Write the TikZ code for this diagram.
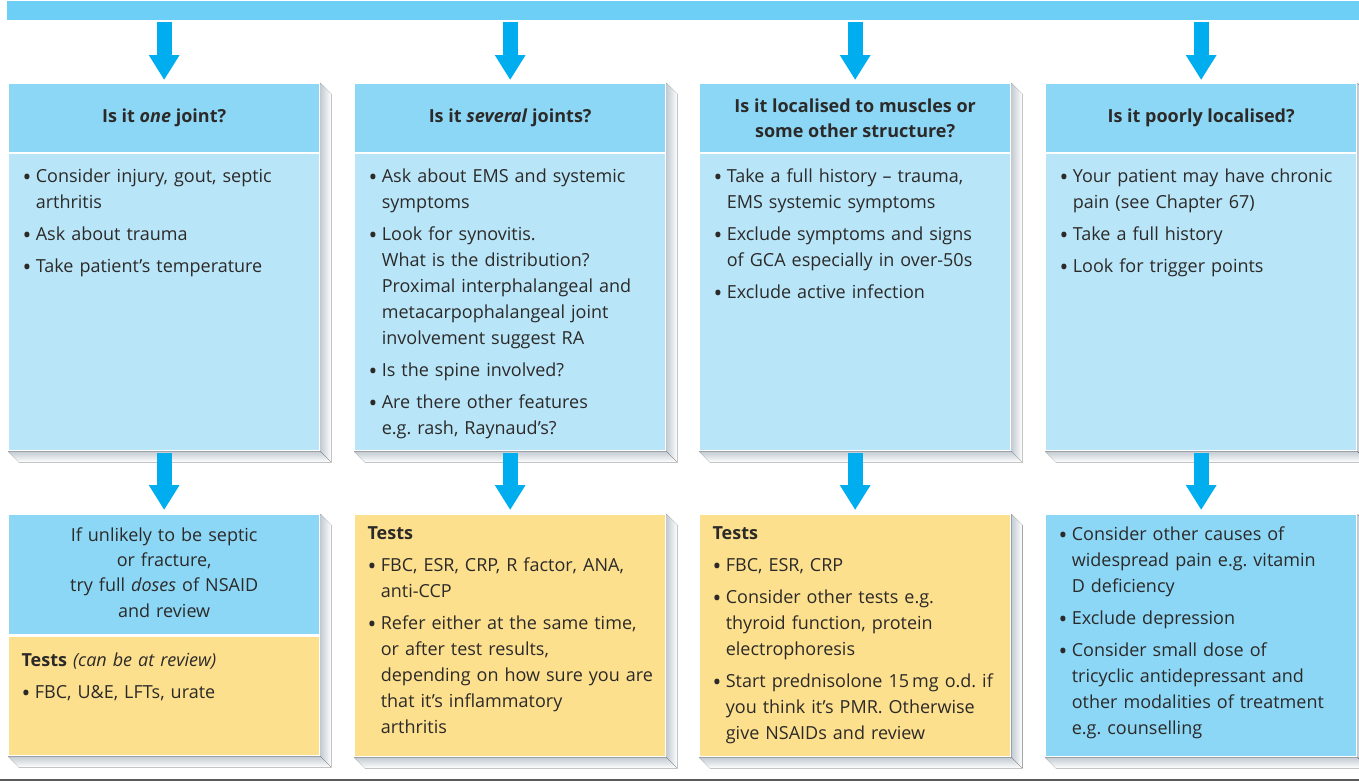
\documentclass[tikz,border=0pt]{standalone}
\usepackage{fontspec}
\setmainfont{Open Sans}
\frenchspacing
\usetikzlibrary{arrows.meta,calc}

\definecolor{barblue}{HTML}{6DCFF6}
\definecolor{headblue}{HTML}{8DD7F6}
\definecolor{paleblue}{HTML}{B9E5F8}
\definecolor{testorange}{HTML}{FDE08E}
\definecolor{arrowblue}{HTML}{00AEEF}
\definecolor{inkgray}{HTML}{2B2A29}
\definecolor{shadowgray}{HTML}{C3CBD2}
\definecolor{rulegray}{HTML}{5A5A5A}

\newcommand{\bodyfont}{\fontsize{13.5}{19.5}\selectfont\setlength{\parskip}{4.5pt}}
\newcommand{\headfont}{\fontsize{13.5}{18.75}\selectfont\bfseries}
\newcommand{\dotmark}{\raisebox{-0.35ex}{\scalebox{1.3}{\textbullet}}}
\newcommand{\bul}[1]{\noindent\hangindent=10pt\hangafter=1\makebox[10pt][l]{\dotmark}{\let\\\newline #1}\par}

\tikzset{every picture/.style={line width=0.75pt}}
\tikzset{
  boxbase/.style={draw=white, line width=1pt, inner sep=0pt, anchor=north west, minimum width=233.25pt},
  askbox/.style={boxbase, fill=headblue, minimum height=51.75pt},
  infobox/.style={boxbase, fill=paleblue, minimum height=222.75pt},
  endbox/.style={boxbase, fill=#1, minimum height=181.5pt},
  halfbox/.style={boxbase, fill=#1, minimum height=89.25pt},
  headtxt/.style={inner sep=0.75pt, text=inkgray, font=\headfont, align=center},
  txt/.style={inner sep=0.75pt, text=inkgray, font=\bodyfont, text width=220pt, align=left},
  downarrow/.style={arrowblue, line width=11.25pt, -{Triangle[width=21.75pt,length=18.75pt]}},
  sideshade/.style={left color=shadowgray, right color=white},
  footshade/.style={top color=shadowgray, bottom color=white},
}

\begin{document}
\begin{tikzpicture}[x=0.75pt,y=0.75pt,yscale=-1,xscale=1]
\useasboundingbox (0,0) rectangle (1359,783);

%Shape: Top Bar
\draw (6,0) node [boxbase, draw=none, fill=barblue, minimum width=1014.75pt, minimum height=14.25pt] (bar) {};

%Shape: Question Boxes
\draw (8,83) node [askbox] (q1) {};
\draw (354,83) node [askbox] (q2) {};
\draw (699,83) node [askbox] (q3) {};
\draw (1045,83) node [askbox] (q4) {};

%Shape: Detail Boxes
\draw (8,153) node [infobox] (d1) {};
\draw (354,153) node [infobox] (d2) {};
\draw (699,153) node [infobox] (d3) {};
\draw (1045,153) node [infobox] (d4) {};

%Shape: Lower Boxes
\draw (8,514) node [boxbase, fill=headblue, minimum height=90pt] (a1) {};
\draw (8,636) node [halfbox=testorange] (t1) {};
\draw (354,514) node [endbox=testorange] (t2) {};
\draw (699,514) node [endbox=testorange] (t3) {};
\draw (1045,514) node [endbox=headblue] (t4) {};

%Shadows of the columns
\fill [sideshade] (q1.north east) -- ($(q1.north east)+(11,11)$) -- ($(d1.south east)+(11,11)$) -- (d1.south east) -- cycle;
\fill [footshade] (d1.south west) -- ($(d1.south west)+(11,11)$) -- ($(d1.south east)+(11,11)$) -- (d1.south east) -- cycle;
\fill [sideshade] (q2.north east) -- ($(q2.north east)+(11,11)$) -- ($(d2.south east)+(11,11)$) -- (d2.south east) -- cycle;
\fill [footshade] (d2.south west) -- ($(d2.south west)+(11,11)$) -- ($(d2.south east)+(11,11)$) -- (d2.south east) -- cycle;
\fill [sideshade] (q3.north east) -- ($(q3.north east)+(11,11)$) -- ($(d3.south east)+(11,11)$) -- (d3.south east) -- cycle;
\fill [footshade] (d3.south west) -- ($(d3.south west)+(11,11)$) -- ($(d3.south east)+(11,11)$) -- (d3.south east) -- cycle;
\fill [sideshade] (q4.north east) -- ($(q4.north east)+(11,11)$) -- ($(d4.south east)+(11,11)$) -- (d4.south east) -- cycle;
\fill [footshade] (d4.south west) -- ($(d4.south west)+(11,11)$) -- ($(d4.south east)+(11,11)$) -- (d4.south east) -- cycle;
%Shadows of the lower boxes
\fill [sideshade] (a1.north east) -- ($(a1.north east)+(11,11)$) -- ($(t1.south east)+(11,11)$) -- (t1.south east) -- cycle;
\fill [footshade] (t1.south west) -- ($(t1.south west)+(11,11)$) -- ($(t1.south east)+(11,11)$) -- (t1.south east) -- cycle;
\fill [sideshade] (t2.north east) -- ($(t2.north east)+(11,11)$) -- ($(t2.south east)+(11,11)$) -- (t2.south east) -- cycle;
\fill [footshade] (t2.south west) -- ($(t2.south west)+(11,11)$) -- ($(t2.south east)+(11,11)$) -- (t2.south east) -- cycle;
\fill [sideshade] (t3.north east) -- ($(t3.north east)+(11,11)$) -- ($(t3.south east)+(11,11)$) -- (t3.south east) -- cycle;
\fill [footshade] (t3.south west) -- ($(t3.south west)+(11,11)$) -- ($(t3.south east)+(11,11)$) -- (t3.south east) -- cycle;
\fill [sideshade] (t4.north east) -- ($(t4.north east)+(11,11)$) -- ($(t4.south east)+(11,11)$) -- (t4.south east) -- cycle;
\fill [footshade] (t4.south west) -- ($(t4.south west)+(11,11)$) -- ($(t4.south east)+(11,11)$) -- (t4.south east) -- cycle;

%Arrows from the bar
\draw [downarrow, shorten <=1pt, shorten >=2.25pt] (bar.south -| q1.north) -- (q1.north);
\draw [downarrow, shorten <=1pt, shorten >=2.25pt] (bar.south -| q2.north) -- (q2.north);
\draw [downarrow, shorten <=1pt, shorten >=2.25pt] (bar.south -| q3.north) -- (q3.north);
\draw [downarrow, shorten <=1pt, shorten >=2.25pt] (bar.south -| q4.north) -- (q4.north);
%Arrows to the lower boxes
\draw [downarrow, shorten <=1.5pt, shorten >=3pt] (d1.south) -- (a1.north);
\draw [downarrow, shorten <=1.5pt, shorten >=3pt] (d2.south) -- (t2.north);
\draw [downarrow, shorten <=1.5pt, shorten >=3pt] (d3.south) -- (t3.north);
\draw [downarrow, shorten <=1.5pt, shorten >=3pt] (d4.south) -- (t4.north);

% Text Node
\draw (q1.center) node [headtxt] (q1txt) {Is it \textit{one} joint?};
% Text Node
\draw (q2.center) node [headtxt] (q2txt) {Is it \textit{several} joints?};
% Text Node
\draw (q3.center) node [headtxt] (q3txt) {Is it localised to muscles or\\some other structure?};
% Text Node
\draw (q4.center) node [headtxt] (q4txt) {Is it poorly localised?};

% Text Node
\draw (21,167) node [anchor=north west][txt] (d1txt) {%
\bul{Consider injury, gout, septic\\arthritis}
\bul{Ask about trauma}
\bul{Take patient’s temperature}};
% Text Node
\draw (367,167) node [anchor=north west][txt] (d2txt) {%
\bul{Ask about EMS and systemic\\symptoms}
\bul{Look for synovitis.\\What is the distribution?\\Proximal interphalangeal and\\metacarpophalangeal joint\\involvement suggest RA}
\bul{Is the spine involved?}
\bul{Are there other features\\e.g. rash, Raynaud’s?}};
% Text Node
\draw (712,167) node [anchor=north west][txt] (d3txt) {%
\bul{Take a full history – trauma,\\EMS systemic symptoms}
\bul{Exclude symptoms and signs\\of GCA especially in over-50s}
\bul{Exclude active infection}};
% Text Node
\draw (1058,167) node [anchor=north west][txt] (d4txt) {%
\bul{Your patient may have chronic\\pain (see Chapter 67)}
\bul{Take a full history}
\bul{Look for trigger points}};

% Text Node
\draw (a1.north) ++(0,12) node [anchor=north][txt, text width=225pt, align=center, font=\fontsize{13.5}{19}\selectfont] (a1txt) {If unlikely to be septic\\or fracture,\\try full \textit{doses} of NSAID\\and review};
% Text Node
\draw (20,651) node [anchor=north west][txt] (t1txt) {%
\noindent\textbf{Tests} \textit{(can be at review)}\par
\bul{FBC, U\&E, LFTs, urate}};
% Text Node
\draw (366,525) node [anchor=north west][txt] (t2txt) {%
\noindent\textbf{Tests}\par
\bul{FBC, ESR, CRP, R factor, ANA,\\anti-CCP}
\bul{Refer either at the same time,\\or after test results,\\depending on how sure you are\\that it’s inflammatory\\arthritis}};
% Text Node
\draw (711,525) node [anchor=north west][txt] (t3txt) {%
\noindent\textbf{Tests}\par
\bul{FBC, ESR, CRP}
\bul{Consider other tests e.g.\\thyroid function, protein\\electrophoresis}
\bul{Start prednisolone 15\,mg o.d. if\\you think it’s PMR. Otherwise\\give NSAIDs and review}};
% Text Node
\draw (1057,525) node [anchor=north west][txt] (t4txt) {%
\bul{Consider other causes of\\widespread pain e.g. vitamin\\D deficiency}
\bul{Exclude depression}
\bul{Consider small dose of\\tricyclic antidepressant and\\other modalities of treatment\\e.g. counselling}};

%Straight Lines
\draw [color=rulegray, line width=1.5pt] (0,780) -- (1359,780);

\end{tikzpicture}
\end{document}
